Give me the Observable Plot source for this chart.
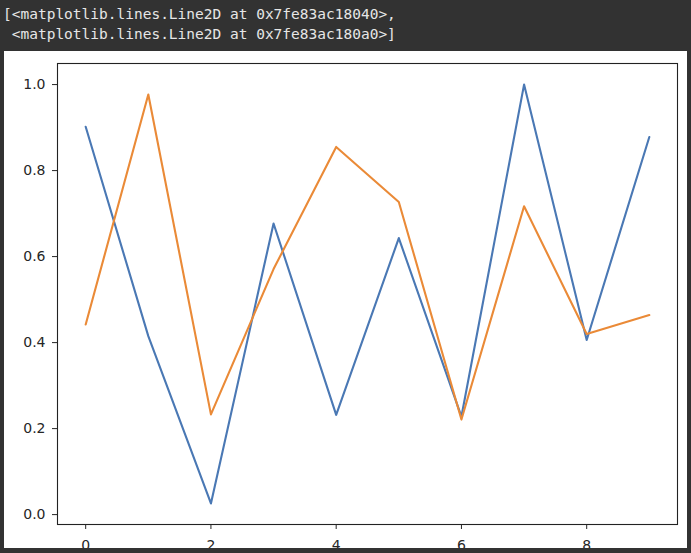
<!DOCTYPE html>
<html>
<head>
<meta charset="utf-8">
<script src="https://cdn.jsdelivr.net/npm/d3@7"></script>
<script src="https://cdn.jsdelivr.net/npm/@observablehq/plot@0.6"></script>
<style>
  html, body { margin: 0; padding: 0; background: #323232; width: 691px; height: 553px; overflow: hidden; }
  #out { position: absolute; left: 3px; top: 4px; margin: 0; color: #e6e6e6;
         font-family: "DejaVu Sans Mono", monospace; font-size: 14.5px; line-height: 20px; white-space: pre; }
  #panel { position: absolute; left: 4px; top: 51px; width: 683px; height: 497px; background: #fff; overflow: hidden; }
  #panel svg { display: block; }
</style>
</head>
<body>
<div id="out">[&lt;matplotlib.lines.Line2D at 0x7fe83ac18040&gt;,
 &lt;matplotlib.lines.Line2D at 0x7fe83ac180a0&gt;]</div>
<div id="panel"></div>
<script>
const xs = [0, 1, 2, 3, 4, 5, 6, 7, 8, 9];
const seriesA = [0.902, 0.415, 0.026, 0.677, 0.232, 0.643, 0.228, 1.0, 0.406, 0.878];
const seriesB = [0.442, 0.977, 0.233, 0.571, 0.855, 0.727, 0.221, 0.717, 0.420, 0.464];
const xTicks = [0, 2, 4, 6, 8];
const yTicks = [0.0, 0.2, 0.4, 0.6, 0.8, 1.0];

const rowsA = xs.map((x, i) => ({x, y: seriesA[i]}));
const rowsB = xs.map((x, i) => ({x, y: seriesB[i]}));

const chart = Plot.plot({
  width: 683,
  height: 510,
  marginLeft: 53,
  marginRight: 10,
  marginTop: 12,
  marginBottom: 37,
  style: {fontFamily: "DejaVu Sans", fontSize: "14px", color: "#262626", background: "white", overflow: "visible"},
  x: {domain: [-0.45, 9.45], ticks: xTicks, tickFormat: d => String(d), tickSize: 5, tickPadding: 11, label: null},
  y: {domain: [-0.023, 1.049], ticks: yTicks, tickFormat: d => d.toFixed(1), tickSize: 5, tickPadding: 7, label: null},
  marks: [
    Plot.line(rowsA, {x: "x", y: "y", stroke: "#4a78b4", strokeWidth: 2.1}),
    Plot.line(rowsB, {x: "x", y: "y", stroke: "#ea8a37", strokeWidth: 2.1}),
    Plot.frame({stroke: "#222", strokeWidth: 1.1})
  ]
});
document.getElementById("panel").appendChild(chart);
</script>
</body>
</html>
